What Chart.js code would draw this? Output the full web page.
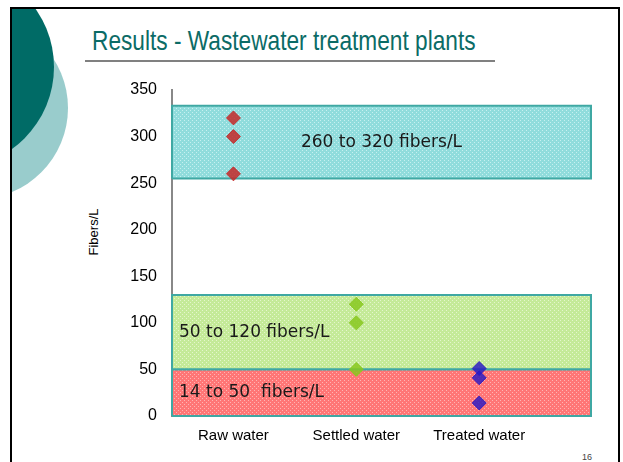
<!DOCTYPE html>
<html>
<head>
<meta charset="utf-8">
<title>Results - Wastewater treatment plants</title>
<script src="https://cdn.jsdelivr.net/npm/chart.js@4.4.0/dist/chart.umd.min.js"></script>
<style>
  html, body { margin: 0; padding: 0; background: #fff; }
  body { width: 623px; height: 462px; position: relative; overflow: hidden; font-family: Arial, "Liberation Sans", sans-serif; }
  #frame { position: absolute; left: 10px; top: 7px; width: 606px; height: 470px; border: 2px solid #000; border-bottom: none; overflow: hidden; }
  .circle { position: absolute; border-radius: 50%; }
  #light { left: -126px; top: 8px; width: 182px; height: 182px; background: #99cccc; }
  #dark { left: -160px; top: -43px; width: 202px; height: 202px; background: #006b66; }
  #title { position: absolute; left: 92px; top: 27px; font-size: 28px; line-height: 1; color: #0b6b66; white-space: nowrap; transform: scaleX(0.81); transform-origin: left top; }
  #rule { position: absolute; left: 85px; top: 60px; width: 410px; height: 2px; background: #808080; }
  #ytitle { position: absolute; left: 93px; top: 232px; font-size: 13px; color: #000; white-space: nowrap; transform: translate(-50%, -50%) rotate(-90deg); }
  #page { position: absolute; left: 582px; top: 453px; font-size: 9px; line-height: 1; color: #444; }
  #myChart { position: absolute; left: 0; top: 0; }
</style>
</head>
<body>
<div id="frame">
  <div class="circle" id="light"></div>
  <div class="circle" id="dark"></div>
</div>
<div id="title">Results - Wastewater treatment plants</div>
<div id="rule"></div>
<div id="ytitle">Fibers/L</div>
<div id="page">16</div>
<canvas id="myChart" width="623" height="462"></canvas>
<script>
// values
const categories = ['Raw water', 'Settled water', 'Treated water'];
const rawWater = [320, 300, 260];
const settledWater = [120, 100, 50];
const treatedWater = [51, 41, 14];

// shaded ranges (bottom, top) and their captions
const bandLow = [0, 50, 255];
const bandHigh = [50, 130, 333];
const bandLabels = ['14 to 50  fibers/L', '50 to 120 fibers/L', '260 to 320 fibers/L'];

const yTicks = [0, 50, 100, 150, 200, 250, 300, 350];

const xMin = 0.5, xMax = 3.91;

var ctx = document.getElementById('myChart').getContext('2d');

// little dotted fill like the slide's pattern
function makePattern(base, dot) {
    let c = document.createElement('canvas');
    c.width = 4; c.height = 4;
    let g = c.getContext('2d');
    g.fillStyle = base;
    g.fillRect(0, 0, 4, 4);
    g.fillStyle = dot;
    g.fillRect(0, 0, 1, 1);
    g.fillRect(2, 2, 1, 1);
    return ctx.createPattern(c, 'repeat');
}

let bandFills = [
    makePattern('#ff7676', '#ffb4b4'),
    makePattern('#c4ea98', '#e4f6cc'),
    makePattern('#90dcdc', '#c6f0f0')
];

let bandSets = [];
for (let i = 0; i < bandLow.length; i++) {
    bandSets.push({
        data: [
            {x: xMin, y: bandLow[i]},
            {x: xMin, y: bandHigh[i]},
            {x: xMax, y: bandHigh[i]},
            {x: xMax, y: bandLow[i]},
            {x: xMin, y: bandLow[i]}
        ],
        showLine: true,
        fill: 'shape',
        backgroundColor: bandFills[i],
        borderColor: '#3fa8a3',
        borderWidth: 2,
        pointRadius: 0,
        tension: 0,
        clip: false,
        order: 1
    });
}

function pointSet(values, xPos, color) {
    return {
        data: values.map(v => ({x: xPos, y: v})),
        pointStyle: 'rectRot',
        pointRadius: 7,
        backgroundColor: color,
        borderColor: color,
        borderWidth: 1,
        showLine: false,
        order: 0
    };
}

// captions written inside the ranges
const bandText = {
    id: 'bandText',
    afterDatasetsDraw(chart) {
        const c = chart.ctx, area = chart.chartArea, y = chart.scales.y;
        c.save();
        c.font = '17px "DejaVu Sans", Verdana, sans-serif';
        c.fillStyle = '#1a1a1a';
        c.textBaseline = 'middle';
        bandLabels.forEach((t, i) => {
            let yy = y.getPixelForValue((bandLow[i] + bandHigh[i]) / 2);
            if (i === 2) {
                c.textAlign = 'center';
                c.fillText(t, (area.left + area.right) / 2, yy);
            } else {
                c.textAlign = 'left';
                c.fillText(t, area.left + 7, yy);
            }
        });
        c.restore();
    }
};

var chart = new Chart(ctx, {
    type: 'scatter',
    data: {
        datasets: [
            pointSet(rawWater, 1, 'rgba(196, 40, 40, 0.85)'),
            pointSet(settledWater, 2, 'rgba(136, 200, 30, 0.85)'),
            pointSet(treatedWater, 3, 'rgba(40, 25, 195, 0.82)')
        ].concat(bandSets)
    },
    plugins: [bandText],
    options: {
        responsive: false,
        animation: false,
        devicePixelRatio: 1,
        layout: { padding: { left: 80, top: 90, right: 32, bottom: 16 } },
        plugins: { legend: { display: false }, tooltip: { enabled: false } },
        scales: {
            x: {
                type: 'linear',
                min: xMin,
                max: xMax,
                afterBuildTicks: s => { s.ticks = [1, 2, 3].map(v => ({value: v})); },
                afterFit: s => { s.height = 30; },
                ticks: {
                    callback: v => categories[v - 1],
                    font: { family: 'Arial, "Liberation Sans", sans-serif', size: 15 },
                    color: '#000',
                    padding: 11,
                    autoSkip: false,
                    maxRotation: 0
                },
                grid: { display: false, drawTicks: false },
                border: { color: '#888', width: 2 }
            },
            y: {
                min: 0,
                max: 350,
                afterBuildTicks: s => { s.ticks = yTicks.map(v => ({value: v})); },
                afterFit: s => { s.width = 92; },
                ticks: {
                    font: { family: 'Arial, "Liberation Sans", sans-serif', size: 16 },
                    color: '#000',
                    padding: 15
                },
                grid: { display: false, drawTicks: false },
                border: { color: '#888', width: 2 }
            }
        }
    }
});
</script>
</body>
</html>
